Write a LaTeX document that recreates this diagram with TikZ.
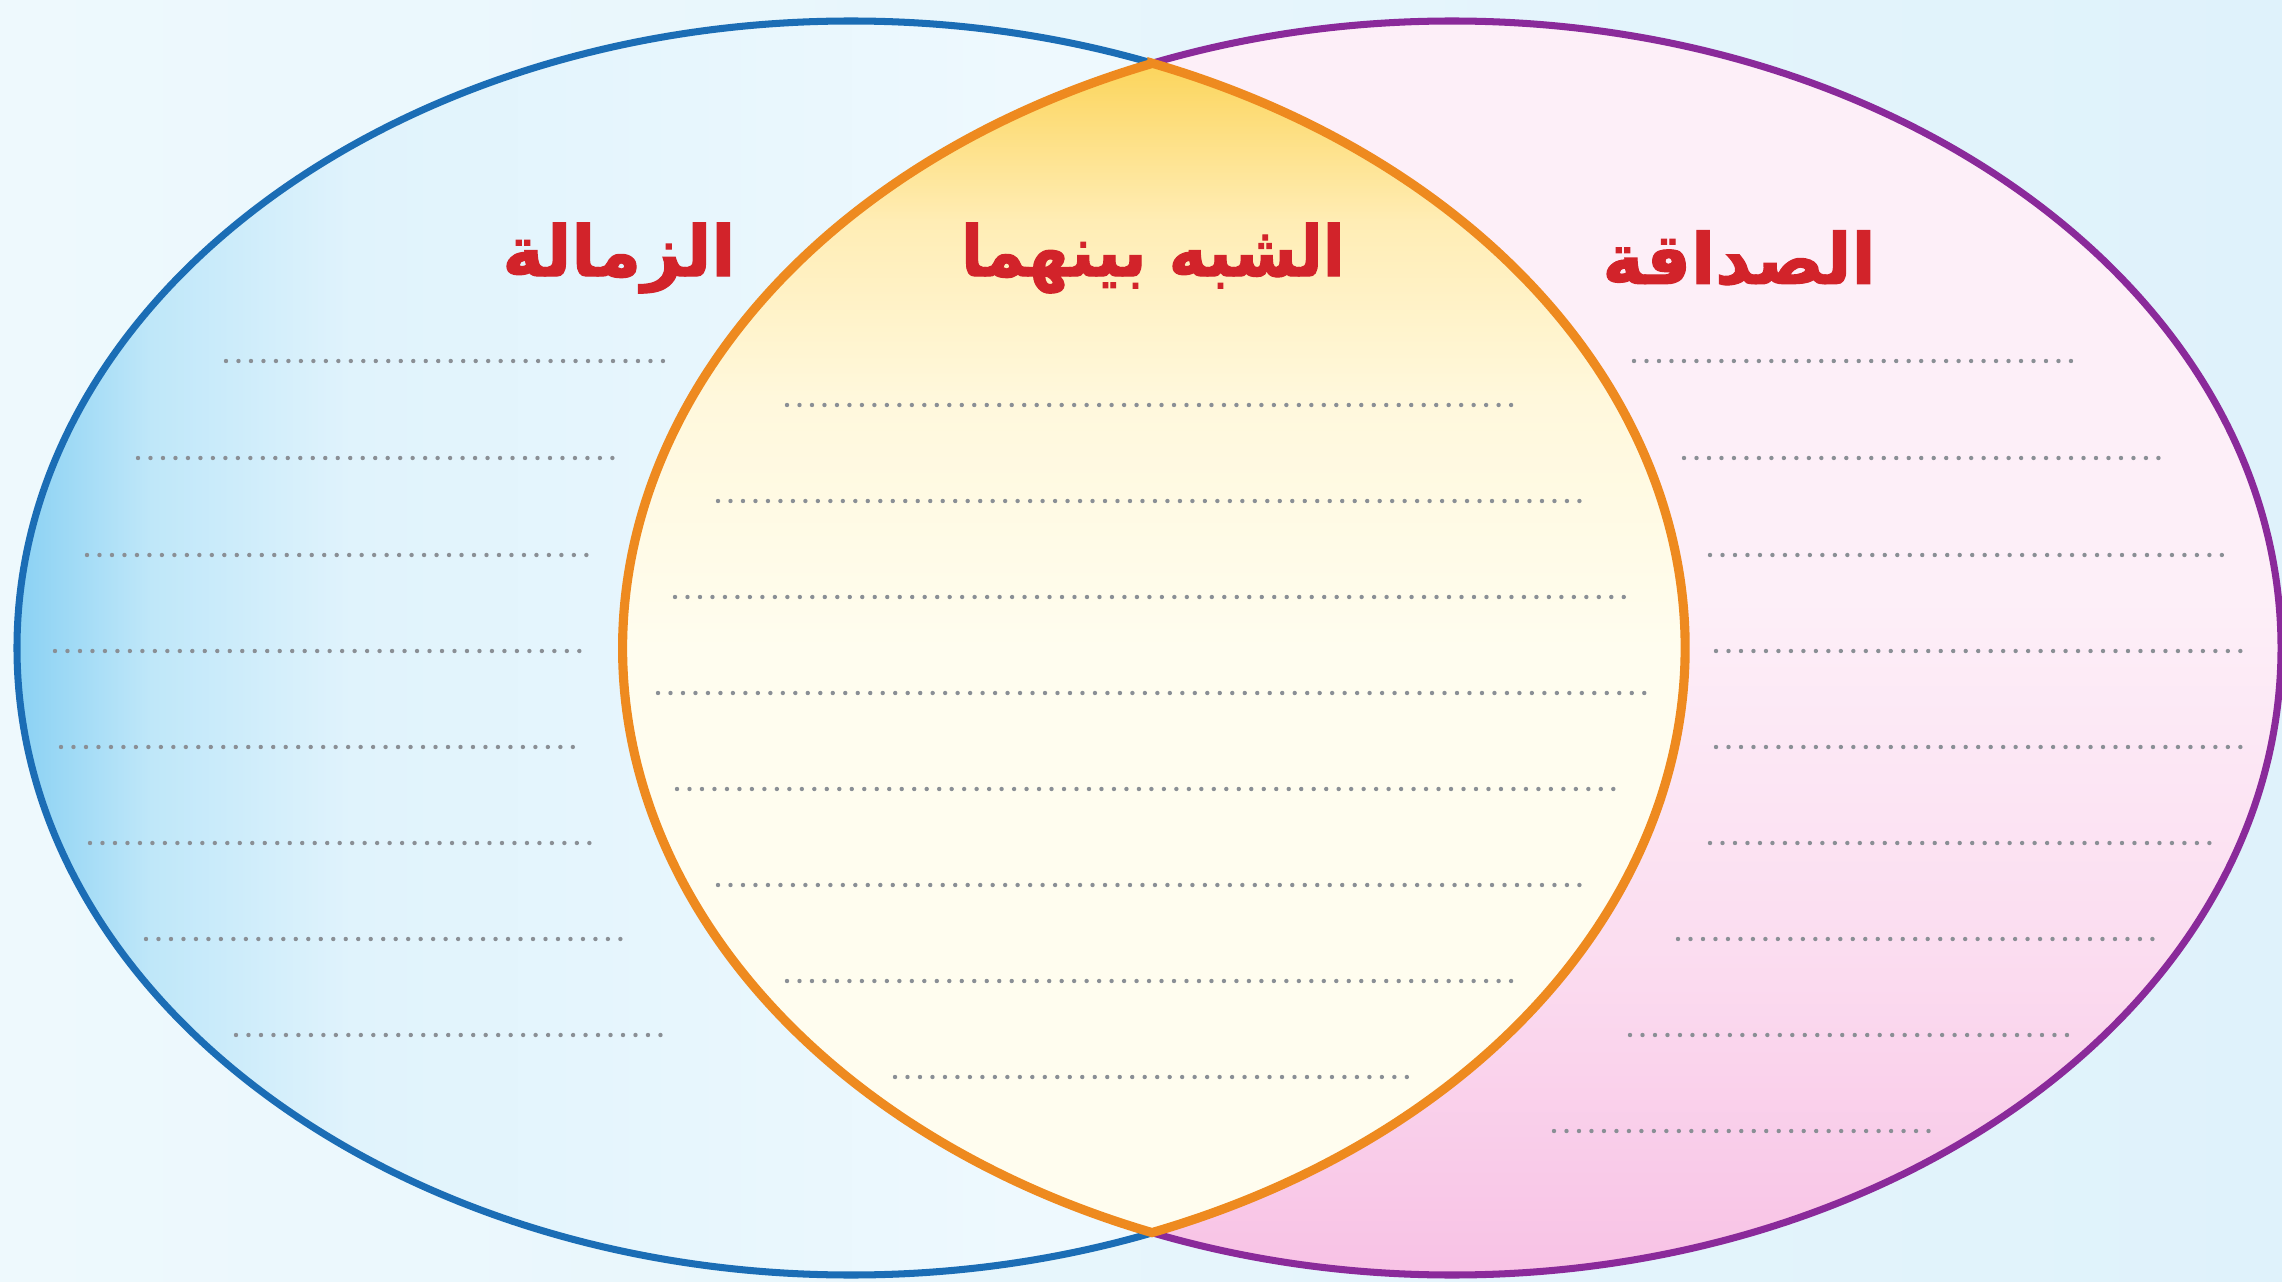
\documentclass[tikz,border=0pt]{standalone}
\usepackage{fontspec}
\TeXXeTstate=1
\newfontfamily\arabicfont[Script=Arabic, BoldFeatures={FakeBold=1.6}]{DejaVu Sans}
\definecolor{bgA}{HTML}{EEF9FD}
\definecolor{bgB}{HTML}{DFF2FB}
\definecolor{blueline}{HTML}{1B6DB5}
\definecolor{purpleline}{HTML}{8A2A9A}
\definecolor{orangeline}{HTML}{EE8A1F}
\definecolor{titlered}{HTML}{D2232A}
\definecolor{dotgray}{HTML}{8A8F95}
\definecolor{lb1}{HTML}{8AD1F3}
\definecolor{lb2}{HTML}{BFE7F9}
\definecolor{lb3}{HTML}{E0F3FC}
\definecolor{lb4}{HTML}{EEF9FE}
\definecolor{pk1}{HTML}{F8C2E5}
\definecolor{pk2}{HTML}{FBDDF0}
\definecolor{pk3}{HTML}{FDEFF8}
\definecolor{yl1}{HTML}{FCD660}
\definecolor{yl2}{HTML}{FFEDB5}
\definecolor{yl3}{HTML}{FFF8DC}
\definecolor{yl4}{HTML}{FFFDEF}
\pgfdeclarehorizontalshading{leftsh}{100bp}{color(0bp)=(lb1); color(25bp)=(lb1); color(29bp)=(lb2); color(35bp)=(lb3); color(55bp)=(lb4); color(100bp)=(lb4)}
\pgfdeclareverticalshading{rightsh}{100bp}{color(0bp)=(pk1); color(25bp)=(pk1); color(38bp)=(pk2); color(52bp)=(pk3); color(100bp)=(pk3)}
\pgfdeclareverticalshading{lenssh}{100bp}{color(0bp)=(yl4); color(50bp)=(yl4); color(60bp)=(yl3); color(67bp)=(yl2); color(73bp)=(yl1); color(100bp)=(yl1)}
\tikzset{
  dotline/.style={dotgray, line width=1.25pt, line cap=round, dash pattern=on 0pt off 3.55pt},
  titletext/.style={text=titlered, font=\arabicfont\bfseries\fontsize{20}{24}\selectfont, inner sep=0pt},
  ellborder/.style={line width=2pt},
}
\begin{document}
\begin{tikzpicture}[x=0.01cm,y=0.01cm]
\useasboundingbox (0,0) rectangle (2282,1281);
\shade[left color=bgA, right color=bgB] (0,0) rectangle (2282,1281);
% left ellipse fill
\shade[shading=leftsh] (851,633) ellipse [x radius=834, y radius=627];
% right ellipse fill
\shade[shading=rightsh] (1452,633) ellipse [x radius=829, y radius=627];
% lens fill
\begin{scope}
  \clip (851,633) ellipse [x radius=834, y radius=627];
  \shade[shading=lenssh] (1452,633) ellipse [x radius=829, y radius=627];
\end{scope}
% borders
\draw[ellborder, blueline] (851,633) ellipse [x radius=834, y radius=627];
\draw[ellborder, purpleline] (1452,633) ellipse [x radius=829, y radius=627];
\coordinate (top) at (1152,1217.5);
\draw[line width=2.6pt, orangeline, line join=miter]
  (top) arc[start angle=111.2, end angle=248.8, x radius=829, y radius=627]
        arc[start angle=-68.84, end angle=68.84, x radius=834, y radius=627] -- cycle;
% titles
\node[titletext] (tleft) at (619,1023) {\beginR الزمالة\endR};
\node[titletext, xscale=0.91] (tmid) at (1153,1023) {\beginR الشبه بينهما\endR};
\node[titletext] (tright) at (1739,1023) {\beginR الصداقة\endR};
% left dotted lines
\foreach \y/\a/\b in {361/226/667, 458/138/619, 555/87/592, 651/55/585, 747/61/585, 843/90/597, 939/146/626, 1035/236/672}
  \draw[dotline] (\a,1281-\y) -- (\b,1281-\y);
% centre dotted lines
\foreach \y/\a/\b in {405/787/1514, 501/718/1582, 597/675/1626, 693/658/1645, 789/677/1624, 885/718/1581, 981/787/1514, 1077/895/1407}
  \draw[dotline] (\a,1281-\y) -- (\b,1281-\y);
% right dotted lines
\foreach \y/\a/\b in {361/1634/2078, 458/1684/2163, 555/1710/2222, 651/1716/2249, 747/1716/2249, 843/1710/2218, 939/1678/2155, 1035/1630/2072, 1131/1554/1939}
  \draw[dotline] (\a,1281-\y) -- (\b,1281-\y);
\end{tikzpicture}
\end{document}
